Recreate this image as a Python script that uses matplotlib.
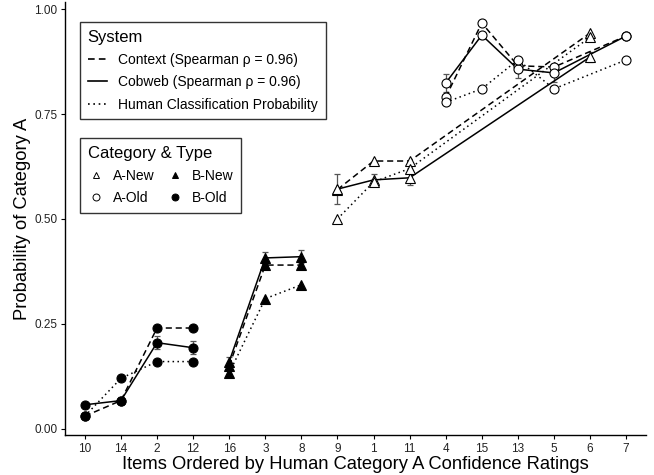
import numpy as np
import matplotlib.pyplot as plt
from matplotlib.lines import Line2D

plt.rcParams['font.family'] = ['Liberation Sans', 'DejaVu Sans']

# dados #
items = ['10', '14', '2', '12', '16', '3', '8', '9', '1', '11', '4', '15', '13', '5', '6', '7']
kinds = ['B-Old'] * 4 + ['B-New'] * 3 + ['A-New'] * 3 + ['A-Old'] * 4 + ['A-New', 'A-Old']

context = [0.03, 0.067, 0.24, 0.24, 0.15, 0.39, 0.39, 0.57, 0.638, 0.638,
           0.79, 0.967, 0.865, 0.862, 0.943, 0.936]
cobweb = [0.057, 0.067, 0.205, 0.193, 0.16, 0.407, 0.41, 0.571, 0.593, 0.598,
          0.824, 0.938, 0.857, 0.848, 0.886, 0.936]
cobweb_err = [0.005, 0.008, 0.015, 0.015, 0.012, 0.015, 0.015, 0.036, 0.015, 0.018,
              0.022, 0.008, 0.02, 0.022, 0.012, 0.006]
human = [0.03, 0.12, 0.16, 0.16, 0.133, 0.31, 0.343, 0.50, 0.588, 0.62,
         0.778, 0.81, 0.879, 0.81, 0.933, 0.879]

systems = [('Context (Spearman \u03c1 = 0.96)', context, (0, (4, 2.5))),
           ('Cobweb (Spearman \u03c1 = 0.96)', cobweb, '-'),
           ('Human Classification Probability', human, (0, (1, 2.2)))]

kind_style = {'A-New': ('^', 'white'), 'B-New': ('^', 'black'),
              'A-Old': ('o', 'white'), 'B-Old': ('o', 'black')}

x = np.arange(len(items))
kinds = np.array(kinds)

fig = plt.figure(figsize=(6.54, 4.75), dpi=100)
ax = fig.add_axes([65 / 654, 40 / 475, 581 / 654, 433 / 475])

# barras de erro do cobweb #
ax.errorbar(x, cobweb, yerr=cobweb_err, fmt='none', ecolor='#555555',
            elinewidth=0.9, capsize=2.5, capthick=0.9, zorder=2)

for name, vals, ls in systems:
    vals = np.array(vals)
    for k in ['B-Old', 'B-New', 'A-New', 'A-Old']:
        idx = np.where(kinds == k)[0]
        ax.plot(x[idx], vals[idx], color='black', linestyle=ls, linewidth=1.1, zorder=3)
        m, fc = kind_style[k]
        ax.plot(x[idx], vals[idx], linestyle='none', marker=m, markersize=6.5,
                markerfacecolor=fc, markeredgecolor='black', markeredgewidth=0.8, zorder=4)

ax.set_xlim(-0.55, len(items) - 0.45)
ax.set_ylim(-0.015, 1.017)
ax.set_xticks(x)
ax.set_xticklabels(items)
ax.set_yticks([0, 0.25, 0.5, 0.75, 1.0])
ax.set_yticklabels(['0.00', '0.25', '0.50', '0.75', '1.00'])
ax.tick_params(labelsize=8.5, labelcolor='#222222', length=3, width=0.8, pad=2.5)
for s in ['top', 'right']:
    ax.spines[s].set_visible(False)
for s in ['left', 'bottom']:
    ax.spines[s].set_linewidth(1.0)

ax.set_xlabel('Items Ordered by Human Category A Confidence Ratings', fontsize=13.2, labelpad=1)
ax.set_ylabel('Probability of Category A', fontsize=13.2, labelpad=2)

# legendas #
sys_handles = [Line2D([], [], color='black', linestyle=ls, linewidth=1.2) for _, _, ls in systems]
leg1 = ax.legend(sys_handles, [n for n, _, _ in systems], title='System',
                 loc='upper left', bbox_to_anchor=(80 / 654, 1 - 22 / 475),
                 bbox_transform=fig.transFigure, borderaxespad=0, fontsize=10, title_fontsize=12,
                 frameon=True, fancybox=False, edgecolor='black', handlelength=1.4,
                 handletextpad=0.8, labelspacing=0.6, borderpad=0.55, alignment='left')
leg1.get_frame().set_linewidth(1.0)
ax.add_artist(leg1)

order = ['A-New', 'A-Old', 'B-New', 'B-Old']
cat_handles = [Line2D([], [], linestyle='none', marker=kind_style[k][0], markersize=5,
                      markerfacecolor=kind_style[k][1], markeredgecolor='black',
                      markeredgewidth=0.7) for k in order]
leg2 = ax.legend(cat_handles, order, title='Category & Type', ncol=2,
                 loc='upper left', bbox_to_anchor=(80 / 654, 1 - 138 / 475),
                 bbox_transform=fig.transFigure, borderaxespad=0, fontsize=10, title_fontsize=12,
                 frameon=True, fancybox=False, edgecolor='black', handlelength=1.2,
                 handletextpad=0.6, columnspacing=0.9, labelspacing=0.6, borderpad=0.55,
                 alignment='left')
leg2.get_frame().set_linewidth(1.0)

fig.savefig('out.png', dpi=100)
